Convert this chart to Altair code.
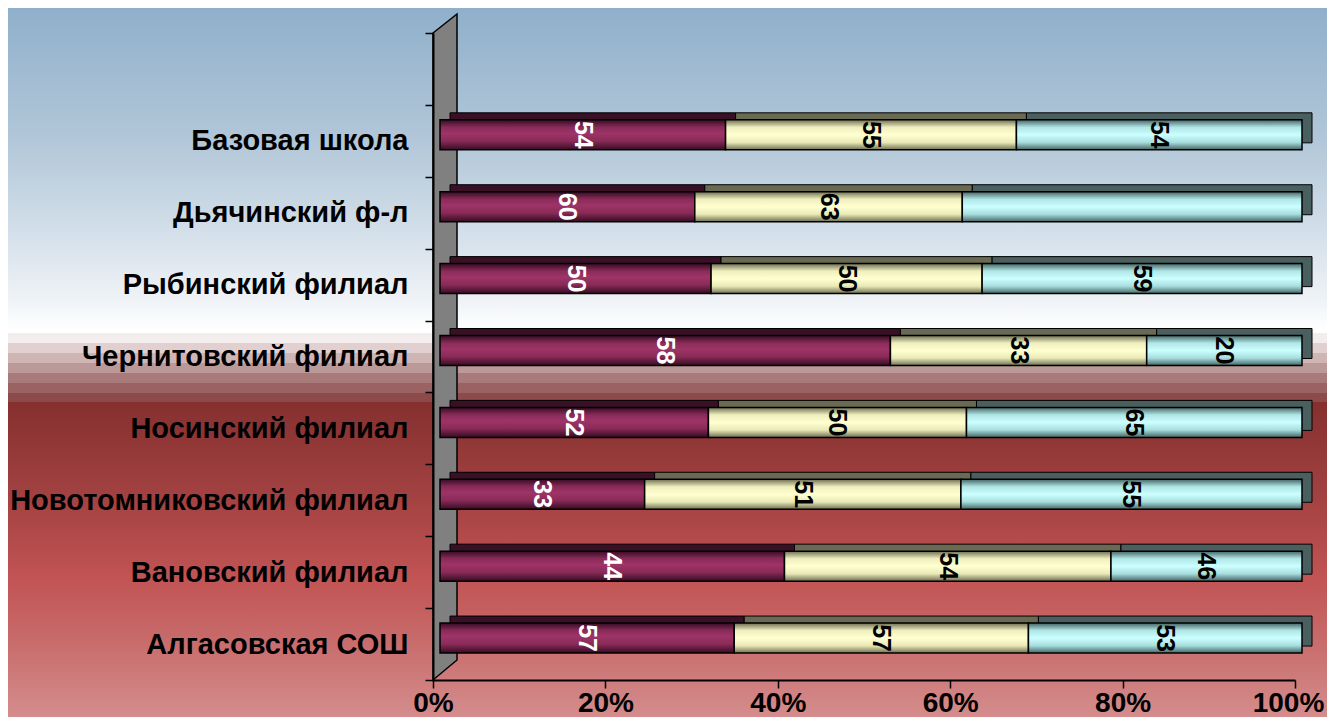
import altair as alt
import pandas as pd

categories = ["Базовая школа", "Дьячинский ф-л", "Рыбинский филиал", "Чернитовский филиал",
              "Носинский филиал", "Новотомниковский филиал", "Вановский филиал", "Алгасовская СОШ"]
# bar lengths (stacked to 100%)
values1 = [54, 60, 50, 58, 52, 33, 44, 57]
values2 = [55, 63, 50, 33, 50, 51, 41.7, 57]
values3 = [54, 80, 59, 20, 65, 55, 24.4, 53]
# data labels shown on the bars
labels1 = ["54", "60", "50", "58", "52", "33", "44", "57"]
labels2 = ["55", "63", "50", "33", "50", "51", "54", "57"]
labels3 = ["54", "", "59", "20", "65", "55", "46", "53"]
x_ticks = [0, 0.2, 0.4, 0.6, 0.8, 1.0]

rows = []
for i, c in enumerate(categories):
    for k, (vals, labs) in enumerate([(values1, labels1), (values2, labels2), (values3, labels3)]):
        rows.append({"cat": c, "series": k, "v": vals[i], "label": labs[i]})
df = pd.DataFrame(rows)

W, H = 862, 647
FONT = "Liberation Sans"

y_domain = [""] + categories
yscale = alt.Scale(domain=y_domain, paddingInner=0, paddingOuter=0)
xscale = alt.Scale(domain=[0, 1], nice=False, zero=False)


def grad(stops):
    return alt.LinearGradient(gradient="linear", x1=0, y1=0, x2=0, y2=1,
                              stops=[alt.GradientStop(offset=o, color=c) for o, c in stops])


bg_grad = grad([
    (0.0, "#8eaeca"), (0.20, "#b3c8d9"), (0.33, "#d6e1eb"), (0.41, "#eef2f6"), (0.455, "#ffffff"),
    (0.459, "#ffffff"), (0.459, "#f4eded"), (0.473, "#f4eded"), (0.473, "#e2d0d0"),
    (0.487, "#e2d0d0"), (0.487, "#d0b5b5"), (0.501, "#d0b5b5"), (0.501, "#bc9999"),
    (0.514, "#bc9999"), (0.514, "#a87a7a"), (0.528, "#a87a7a"), (0.528, "#9a6262"),
    (0.542, "#9a6262"), (0.542, "#8c4a4a"), (0.554, "#8c4a4a"), (0.554, "#84302f"),
    (0.69, "#a44242"), (0.80, "#c25454"), (0.88, "#c86a6a"), (1.0, "#d69090"),
])

front_grads = [
    grad([(0, "#360c23"), (0.25, "#8a2b59"), (0.45, "#9e3468"), (0.7, "#8a2b58"), (1, "#360c23")]),
    grad([(0, "#6e6e52"), (0.25, "#eeeebe"), (0.5, "#ffffd0"), (0.75, "#eaeab8"), (1, "#6e6e52")]),
    grad([(0, "#446464"), (0.25, "#b0e6e6"), (0.5, "#ccffff"), (0.75, "#a8dede"), (1, "#446464")]),
]
back_colors = ["#3a1026", "#6a6a52", "#4a6060"]

bg = alt.Chart(pd.DataFrame({"a": [0]})).mark_rect(fill=bg_grad).encode(
    x=alt.value(-433), x2=alt.value(902), y=alt.value(-33), y2=alt.value(692))

wall_df = pd.DataFrame({"px": [0, 24], "top": [0, -19], "bot": [H, H - 20]})
wall = alt.Chart(wall_df).mark_area(fill="#808080", stroke="black", strokeWidth=1.5,
                                    orient="vertical").encode(
    x=alt.X("px:Q", scale=None, axis=None),
    y=alt.Y("top:Q", scale=None, axis=None),
    y2="bot:Q")

base = alt.Chart(df).transform_stack(
    stack="v", groupby=["cat"], as_=["x0", "x1"], offset="normalize",
    sort=[alt.SortField("series", order="ascending")])

back = base.mark_bar(size=30, xOffset=17, x2Offset=17, yOffset=-13, y2Offset=-13,
                     stroke="black", strokeWidth=1).encode(
    x=alt.X("x0:Q", scale=xscale, axis=None),
    x2="x1:Q",
    y=alt.Y("cat:N", scale=yscale, axis=None),
    color=alt.Color("series:N", scale=alt.Scale(domain=[0, 1, 2], range=back_colors), legend=None))

fronts = []
for k in range(3):
    if k == 0:
        xaxis = alt.Axis(values=x_ticks, format=".0%", title=None, grid=False, zindex=2,
                         domainColor="black", domainWidth=2, tickColor="black", tickWidth=1.5,
                         tickSize=8, labelFont=FONT, labelFontWeight="bold", labelFontSize=28,
                         labelColor="black", labelPadding=23, labelBaseline="alphabetic",
                         labelFlush=False,
                         labelOffset={"condition": {"test": "datum.value >= 1", "value": -7},
                                      "value": 0})
        yaxis = alt.Axis(title=None, grid=False, tickBand="extent", domainColor="black", zindex=2,
                         domainWidth=2, tickColor="black", tickWidth=1.5, tickSize=8,
                         labelFont=FONT, labelFontWeight="bold", labelFontSize=29,
                         labelColor="black", labelPadding=17, labelLimit=0)
    else:
        xaxis = None
        yaxis = None
    fronts.append(
        base.transform_filter(alt.datum.series == k).mark_bar(
            size=30, xOffset=7, x2Offset=7, yOffset=-6, y2Offset=-6,
            fill=front_grads[k], stroke="black", strokeWidth=1.5
        ).encode(
            x=alt.X("x0:Q", scale=xscale, axis=xaxis),
            x2="x1:Q",
            y=alt.Y("cat:N", scale=yscale, axis=yaxis, sort=y_domain))
    )

text = base.transform_calculate(mid="(datum.x0 + datum.x1) / 2").mark_text(
    angle=90, font=FONT, fontWeight="bold", fontSize=25, xOffset=7, yOffset=-6,
    align="center", baseline="middle").encode(
    x=alt.X("mid:Q", scale=xscale, axis=None),
    y=alt.Y("cat:N", scale=yscale, axis=None),
    text="label:N",
    color=alt.condition(alt.datum.series == 0, alt.value("white"), alt.value("black")))

chart = alt.layer(bg, wall, back, *fronts, text).resolve_scale(
    x="independent", y="independent"
).properties(
    width=W, height=H,
    padding={"left": 425, "top": 25, "right": 32, "bottom": 37},
    autosize=alt.AutoSizeParams(type="none"),
    background="white",
).configure_view(stroke=None)

chart.save("out.html", embed_options={"renderer": "svg", "actions": False})
